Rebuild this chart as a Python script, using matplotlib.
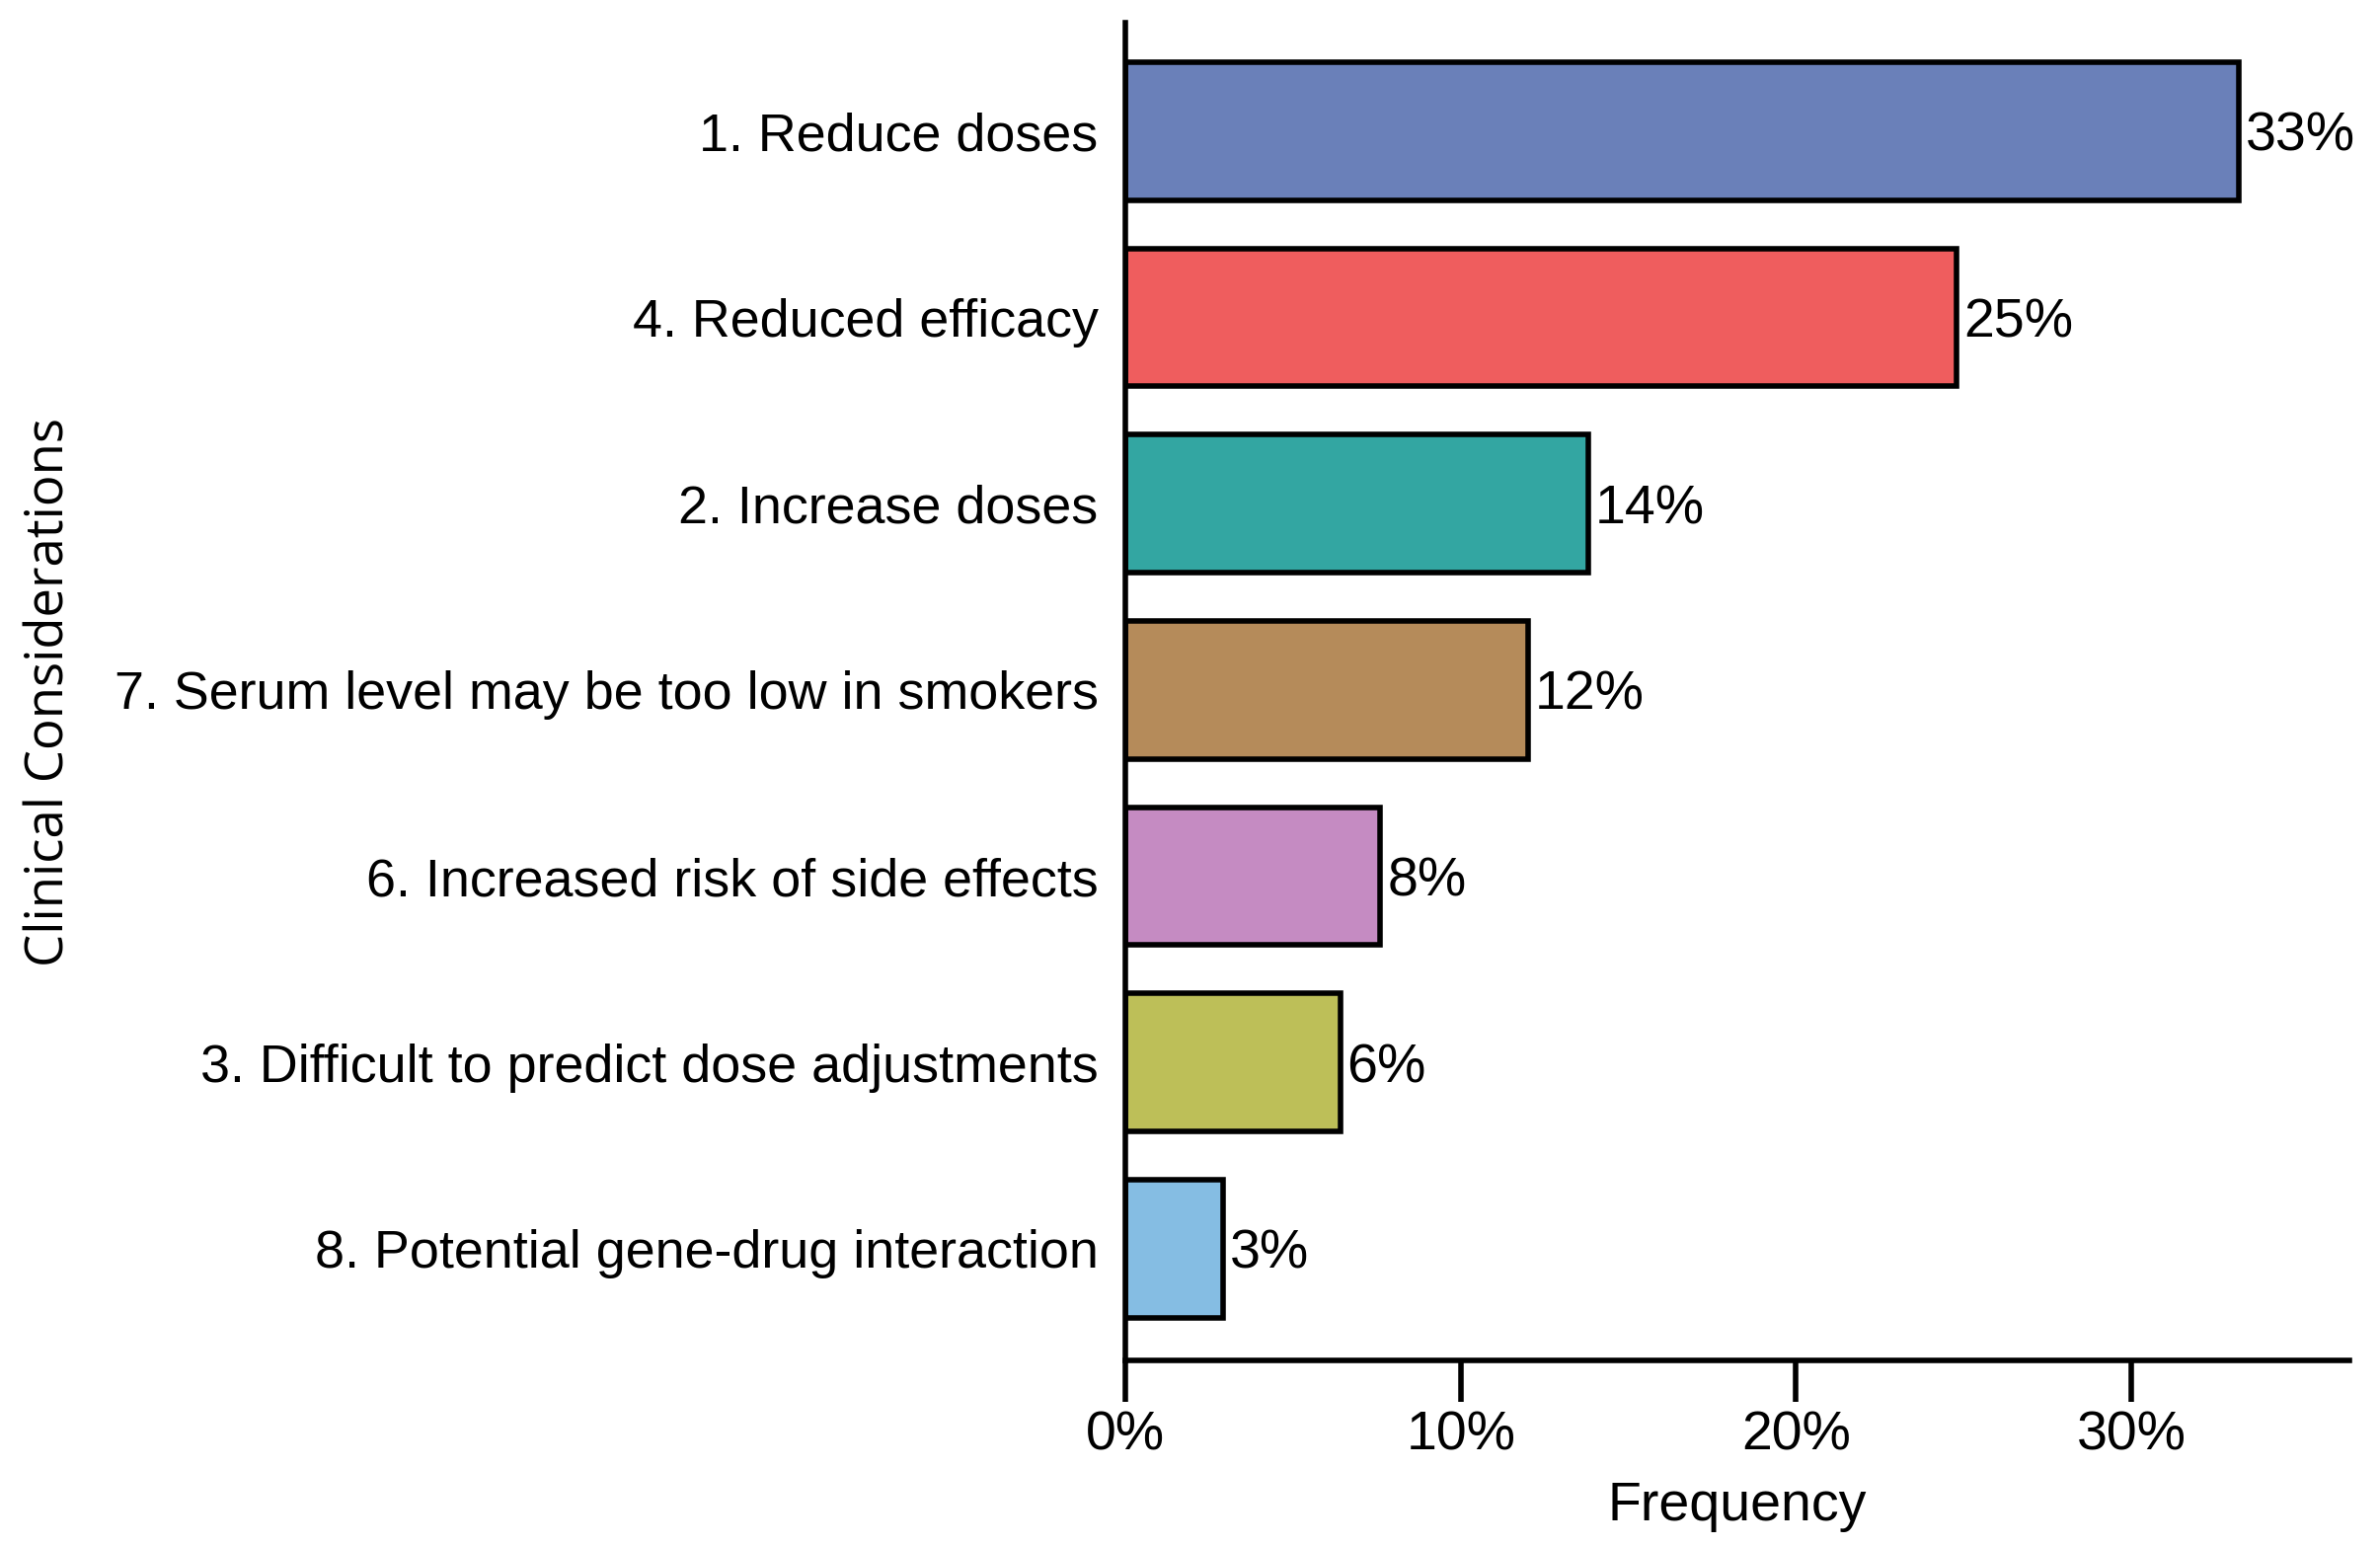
import matplotlib.pyplot as plt
from matplotlib import font_manager

categories = ['1. Reduce doses', '4. Reduced efficacy', '2. Increase doses',
              '7. Serum level may be too low in smokers', '6. Increased risk of side effects',
              '3. Difficult to predict dose adjustments', '8. Potential gene-drug interaction']
values = [33.2, 24.8, 13.8, 12.0, 7.6, 6.4, 2.9]
labels = ['33%', '25%', '14%', '12%', '8%', '6%', '3%']
colors = ['#6A80B9', '#EF5D5E', '#33A6A2', '#B58B5A', '#C58BC2', '#BDBF58', '#85BDE3']

names = [f.name for f in font_manager.fontManager.ttflist]
fam = 'Liberation Sans Narrow' if 'Liberation Sans Narrow' in names else 'Liberation Sans'
plt.rcParams['font.family'] = [fam, 'DejaVu Sans']

fig = plt.figure(figsize=(24.11, 15.66), dpi=100)
ax = fig.add_axes([0.473, 0.12, 0.514, 0.865])

pos = list(range(len(categories)))
ax.barh(pos, values, height=0.74, color=colors, edgecolor='black', linewidth=4)
for p, v, t in zip(pos, values, labels):
    ax.text(v + 0.2, p, t, va='center_baseline', ha='left', fontsize=40)

ax.set_ylim(6.6, -0.58)
ax.set_xlim(0, 36.5)
ax.set_xticks([0, 10, 20, 30])
ax.set_xticklabels(['0%', '10%', '20%', '30%'], fontsize=40)
ax.set_yticks(pos)
ax.set_yticklabels(categories, fontsize=38.8)
ax.tick_params(axis='y', length=0, pad=20)
ax.tick_params(axis='x', length=30, width=4, pad=6)
for s in ['top', 'right']:
    ax.spines[s].set_visible(False)
ax.spines['left'].set_linewidth(4)
ax.spines['bottom'].set_linewidth(4)
ax.set_xlabel('Frequency', fontsize=40, labelpad=14)
ax.set_ylabel('Clinical Considerations', fontsize=38, family='Open Sans')
ax.yaxis.set_label_coords(-0.858, 0.5)

fig.savefig('out.png', dpi=100)
